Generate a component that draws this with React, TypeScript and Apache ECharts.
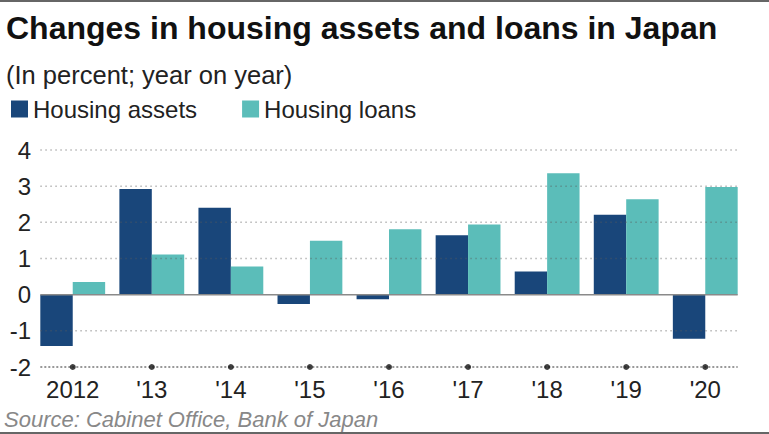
import React, { useEffect, useRef } from 'react';
import * as echarts from 'echarts';

const categories = ['2012', "'13", "'14", "'15", "'16", "'17", "'18", "'19", "'20"];
const housingAssets = [-1.42, 2.92, 2.4, -0.26, -0.13, 1.64, 0.64, 2.21, -1.22];
const housingLoans = [0.35, 1.11, 0.78, 1.49, 1.81, 1.94, 3.36, 2.64, 2.98];
const yTicks = [-2, -1, 0, 1, 2, 3, 4];

const FONT = "'Liberation Sans', Arial, Helvetica, sans-serif";
const NAVY = '#19467a';
const TEAL = '#5bbdb9';
const CAT_GAP = 0.18;

export default function App() {
  const ref = useRef<HTMLDivElement>(null);
  useEffect(() => {
    const chart = echarts.init(ref.current!, null, { renderer: 'svg' });
    const yMin = yTicks[0];
    const yMax = yTicks[yTicks.length - 1];
    chart.setOption({
      animation: false,
      backgroundColor: '#ffffff',
      textStyle: { fontFamily: FONT },
      graphic: [
        { type: 'rect', x: 0, y: 0, shape: { width: 769, height: 2 }, style: { fill: '#666' } },
        { type: 'rect', x: 0, y: 432, shape: { width: 769, height: 2 }, style: { fill: '#666' } },
        {
          type: 'text', x: 6, y: 28,
          style: { text: 'Changes in housing assets and loans in Japan', fontSize: 32, fontWeight: 'bold', fontFamily: FONT, fill: '#111', verticalAlign: 'middle' },
        },
        {
          type: 'text', x: 6, y: 75,
          style: { text: '(In percent; year on year)', fontSize: 25.5, fontFamily: FONT, fill: '#222', verticalAlign: 'middle' },
        },
        {
          type: 'text', x: 4, y: 419,
          style: { text: 'Source: Cabinet Office, Bank of Japan', fontSize: 22, fontStyle: 'italic', fontFamily: FONT, fill: '#888', verticalAlign: 'middle' },
        },
      ],
      legend: {
        data: ['Housing assets', 'Housing loans'],
        left: 6, top: 92,
        icon: 'rect', itemWidth: 17, itemHeight: 17, itemGap: 45,
        textStyle: { fontSize: 24, color: '#222', fontFamily: FONT },
      },
      grid: { left: 33.2, right: 24.2, top: 150, bottom: 67 },
      xAxis: {
        type: 'category', data: categories,
        axisLine: { show: false }, axisTick: { show: false },
        axisLabel: { fontSize: 24, color: '#222', margin: 10, fontFamily: FONT },
      },
      yAxis: {
        type: 'value', min: yMin, max: yMax, interval: 1,
        axisLine: { show: false }, axisTick: { show: false }, splitLine: { show: false },
        axisLabel: { fontSize: 24, color: '#222', margin: 2, fontFamily: FONT },
      },
      series: [
        {
          name: 'Housing assets', type: 'bar', data: housingAssets,
          itemStyle: { color: NAVY }, barGap: '0%', barCategoryGap: CAT_GAP * 100 + '%', z: 2,
        },
        {
          name: 'Housing loans', type: 'bar', data: housingLoans,
          itemStyle: { color: TEAL }, barGap: '0%', barCategoryGap: CAT_GAP * 100 + '%', z: 2,
        },
        {
          name: 'grid', type: 'custom', z: 5, silent: true,
          data: yTicks.map((v) => [0, v]),
          encode: { x: 0, y: 1 },
          renderItem: (params: any, api: any) => {
            const v = api.value(1);
            const p0 = api.coord([0, v]);
            const p1 = api.coord([categories.length - 1, v]);
            const bw = api.size([1, 0])[0];
            const half = (bw * (1 - CAT_GAP)) / 2;
            let style: any;
            if (v === yMin) style = { stroke: '#777', lineWidth: 1.5, lineDash: [2, 2] };
            else if (v === 0) style = { stroke: '#8a8a8a', lineWidth: 1.5 };
            else style = { stroke: 'rgba(90,90,90,0.45)', lineWidth: 1.5, lineDash: [1.5, 3.5] };
            return {
              type: 'line',
              shape: { x1: p0[0] - half, y1: p0[1], x2: p1[0] + half, y2: p1[1] },
              style,
            };
          },
        },
        {
          name: 'ticks', type: 'scatter', z: 6, silent: true,
          data: categories.map((c) => [c, yMin]),
          symbol: 'circle', symbolSize: 6,
          itemStyle: { color: '#111' },
        },
      ],
    });
    return () => chart.dispose();
  }, []);
  return <div ref={ref} style={{ position: 'fixed', left: 0, top: 0, width: 769, height: 434 }} />;
}
